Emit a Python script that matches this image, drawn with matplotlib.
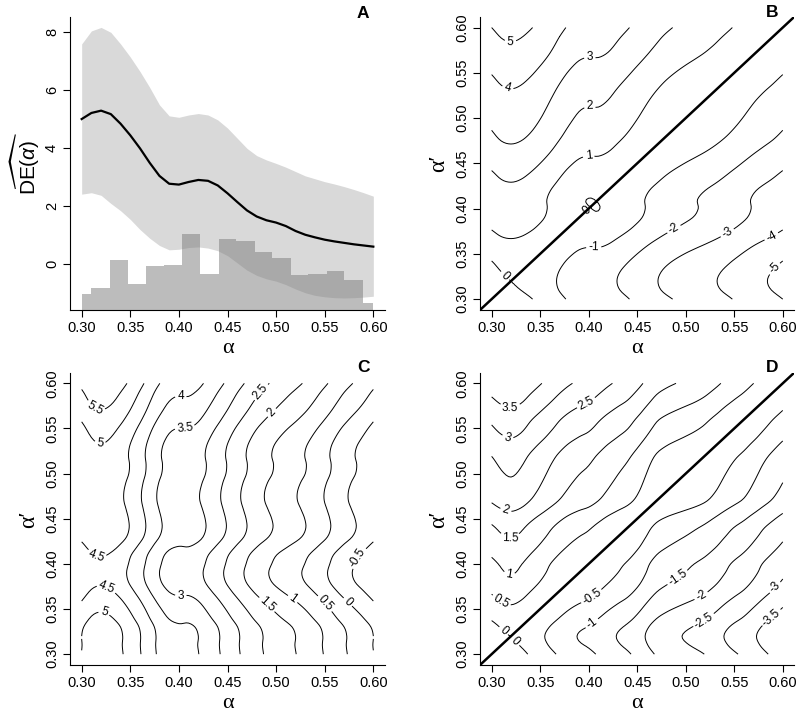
import numpy as np
import matplotlib
matplotlib.use("Agg")
import matplotlib.pyplot as plt

# ---------------- data ----------------
alpha = np.linspace(0.30, 0.60, 31)

# Panel A: estimated direct effect and pointwise band
de_hat = [5.01, 5.22, 5.30, 5.18, 4.85, 4.45, 4.00, 3.50, 3.05, 2.78, 2.75,
          2.84, 2.91, 2.88, 2.72, 2.45, 2.15, 1.86, 1.65, 1.52, 1.44,
          1.32, 1.15, 1.02, 0.93, 0.85, 0.79, 0.74, 0.69, 0.65, 0.61]
de_upper = [7.60, 8.05, 8.17, 8.00, 7.60, 7.15, 6.65, 6.10, 5.50, 5.12, 5.07,
            5.15, 5.20, 5.15, 4.98, 4.70, 4.35, 4.00, 3.75, 3.60, 3.48,
            3.35, 3.20, 3.05, 2.95, 2.85, 2.77, 2.68, 2.58, 2.47, 2.35]
de_lower = [2.42, 2.47, 2.38, 2.10, 1.85, 1.55, 1.20, 0.90, 0.65, 0.50, 0.52,
            0.58, 0.60, 0.56, 0.47, 0.30, 0.05, -0.20, -0.38, -0.50, -0.58,
            -0.70, -0.85, -0.98, -1.07, -1.12, -1.15, -1.16, -1.15, -1.13, -1.10]

# Histogram of observed coverages (bar tops in panel-A units)
hist_edges = [0.300, 0.310, 0.329, 0.348, 0.366, 0.385, 0.403, 0.422, 0.441,
              0.459, 0.478, 0.496, 0.515, 0.533, 0.552, 0.570, 0.589, 0.600]
hist_tops = [-1.02, -0.83, 0.14, -0.69, -0.06, -0.03, 1.05, -0.34, 0.87,
             0.82, 0.41, 0.23, -0.37, -0.33, -0.23, -0.54, -1.32]

# Marginal curves behind the contour panels (relative values)
mu0_neg = [0.30, 0.07, 0.00, 0.07, 0.25, 0.50, 0.78, 1.10, 1.40, 1.62, 1.70,
           1.69, 1.80, 2.02, 2.25, 2.50, 2.74, 2.97, 3.18, 3.36, 3.52,
           3.66, 3.80, 3.96, 4.14, 4.34, 4.55, 4.75, 4.93, 5.10, 5.30]
mu_neg = [0.00, -0.14, -0.20, -0.12, 0.05, 0.22, 0.39, 0.56, 0.71, 0.82, 0.90,
          1.04, 1.19, 1.32, 1.44, 1.62, 1.84, 2.04, 2.16, 2.25, 2.33,
          2.41, 2.51, 2.65, 2.81, 2.95, 3.08, 3.25, 3.42, 3.58, 3.75]

levels_B = [-5, -4, -3, -2, -1, 0, 1, 2, 3, 4, 5]
levels_C = [-0.5, 0, 0.5, 1, 1.5, 2, 2.5, 3, 3.5, 4, 4.5, 5, 5.5]
levels_D = [-3.5, -3, -2.5, -2, -1.5, -1, -0.5, 0, 0.5, 1, 1.5, 2, 2.5, 3, 3.5]
xticks = [0.30, 0.35, 0.40, 0.45, 0.50, 0.55, 0.60]


def catmull(x, y, n=4):
    """Smooth resampling (Catmull-Rom) used only to render smooth contours."""
    x = np.asarray(x, float); y = np.asarray(y, float)
    p = np.concatenate([[2 * y[0] - y[1]], y, [2 * y[-1] - y[-2]]])
    xs, ys = [], []
    t = np.arange(n) / n
    for i in range(len(y) - 1):
        p0, p1, p2, p3 = p[i], p[i + 1], p[i + 2], p[i + 3]
        v = 0.5 * ((2 * p1) + (-p0 + p2) * t + (2 * p0 - 5 * p1 + 4 * p2 - p3) * t ** 2
                   + (-p0 + 3 * p1 - 3 * p2 + p3) * t ** 3)
        xs.append(x[i] + (x[i + 1] - x[i]) * t)
        ys.append(v)
    xs.append([x[-1]]); ys.append([y[-1]])
    return np.concatenate(xs), np.concatenate(ys)


# ---------------- style ----------------
plt.rcParams['font.family'] = ['Liberation Sans', 'DejaVu Sans']
plt.rcParams['mathtext.fontset'] = 'custom'
plt.rcParams['mathtext.rm'] = 'Liberation Sans'
plt.rcParams['mathtext.it'] = 'Liberation Sans:italic'
plt.rcParams['axes.linewidth'] = 0.8
plt.rcParams['contour.negative_linestyle'] = 'solid'

fig = plt.figure(figsize=(8, 7.16), dpi=100)
W, H = 800.0, 716.0


def add_axes(l, r, t, b):
    return fig.add_axes([l / W, 1 - b / H, (r - l) / W, (b - t) / H])


axA = add_axes(70, 385, 16.7, 310)
axB = add_axes(480, 794.4, 16.7, 310)
axC = add_axes(70, 385, 372.5, 665)
axD = add_axes(480, 794.4, 372.5, 665)

serif = ['Liberation Serif', 'DejaVu Serif']


def style(ax, is_square=True):
    for s in ('top', 'right'):
        ax.spines[s].set_visible(False)
    ax.tick_params(direction='out', length=5, width=0.8, labelsize=10.5, pad=3)
    ax.set_xticks(xticks)
    ax.set_xticklabels(['%.2f' % v for v in xticks])
    ax.set_xlim(0.288, 0.612)
    ax.set_xlabel('α', family=serif, fontsize=16, labelpad=3)
    if is_square:
        ax.set_ylim(0.288, 0.612)
        ax.set_yticks(xticks)
        ax.set_yticklabels(['%.2f' % v for v in xticks], rotation=90, va='center')
        ax.set_ylabel('α′', family=serif, fontsize=17, labelpad=4)


# ---------------- Panel A ----------------
axA.fill_between(alpha, de_lower, de_upper, color='#d9d9d9', lw=0)
ylo = -1.575
axA.bar(hist_edges[:-1], np.array(hist_tops) - ylo, width=np.diff(hist_edges),
        bottom=ylo, align='edge', color='#7a7a7a', alpha=0.5, lw=0)
axA.plot(alpha, de_hat, color='black', lw=1.6)
style(axA, is_square=False)
axA.set_ylim(ylo, 8.54)
axA.set_yticks([0, 2, 4, 6, 8])
axA.set_yticklabels(['0', '2', '4', '6', '8'], rotation=90, va='center')
axA.set_ylabel(r'$\widehat{\mathrm{DE}(\alpha)}$', fontsize=15, labelpad=2)

# ---------------- contour fields ----------------
af, Ff = catmull(alpha, mu0_neg)
_, DEf = catmull(alpha, de_hat)
_, Gf = catmull(alpha, mu_neg)
X, Y = np.meshgrid(af, af)
ZB = Ff[:, None] - Ff[None, :]
ZC = (Ff + DEf)[:, None] - Ff[None, :]
ZD = Gf[:, None] - Gf[None, :]


def contour_panel(ax, Z, levels, manual, diag):
    cs = ax.contour(X, Y, Z, levels=levels, colors='black', linewidths=0.7,
                    linestyles='solid')
    if diag:
        ax.plot([0.288, 0.612], [0.288, 0.612], color='black', lw=1.8,
                solid_capstyle='butt', clip_on=True, zorder=3)
    ax.clabel(cs, levels, manual=manual, inline=True, fontsize=8.5,
              fmt={lv: '%g' % lv for lv in levels}, inline_spacing=3)
    style(ax)


contour_panel(axB, ZB, levels_B,
              [(0.3196, 0.5872), (0.3168, 0.5341), (0.4011, 0.5698), (0.4011, 0.5156),
               (0.40, 0.458), (0.3127, 0.3245), (0.4053, 0.3578), (0.4893, 0.3744),
               (0.5442, 0.3707), (0.5888, 0.3681), (0.5922, 0.333), (0.398, 0.398)], True)
contour_panel(axC, ZC, levels_C,
              [(0.3189, 0.5816), (0.3196, 0.5374), (0.4019, 0.5864), (0.407, 0.554),
               (0.4859, 0.589), (0.4962, 0.5669), (0.3161, 0.4105), (0.323, 0.3682),
               (0.3213, 0.3406), (0.4019, 0.3608), (0.4893, 0.3535), (0.5168, 0.3608),
               (0.5476, 0.3535), (0.5733, 0.3572), (0.5905, 0.4032)], False)
contour_panel(axD, ZD, levels_D,
              [(0.3195, 0.5786), (0.3178, 0.5443), (0.3967, 0.5797), (0.3144, 0.4587),
               (0.3195, 0.4347), (0.3178, 0.3849), (0.3127, 0.3635), (0.311, 0.324),
               (0.3247, 0.3148), (0.3984, 0.3702), (0.4001, 0.3387), (0.4927, 0.383),
               (0.515, 0.3664), (0.515, 0.3443), (0.5922, 0.3738), (0.5853, 0.3443)], True)

# panel letters
for txt, x, y in [('A', 363, 13), ('B', 771.7, 12.7), ('C', 363.3, 368), ('D', 771.7, 368)]:
    fig.text(x / W, 1 - y / H, txt, ha='center', va='center', fontsize=12.5,
             fontweight='bold')

fig.savefig('out.png', dpi=100)
